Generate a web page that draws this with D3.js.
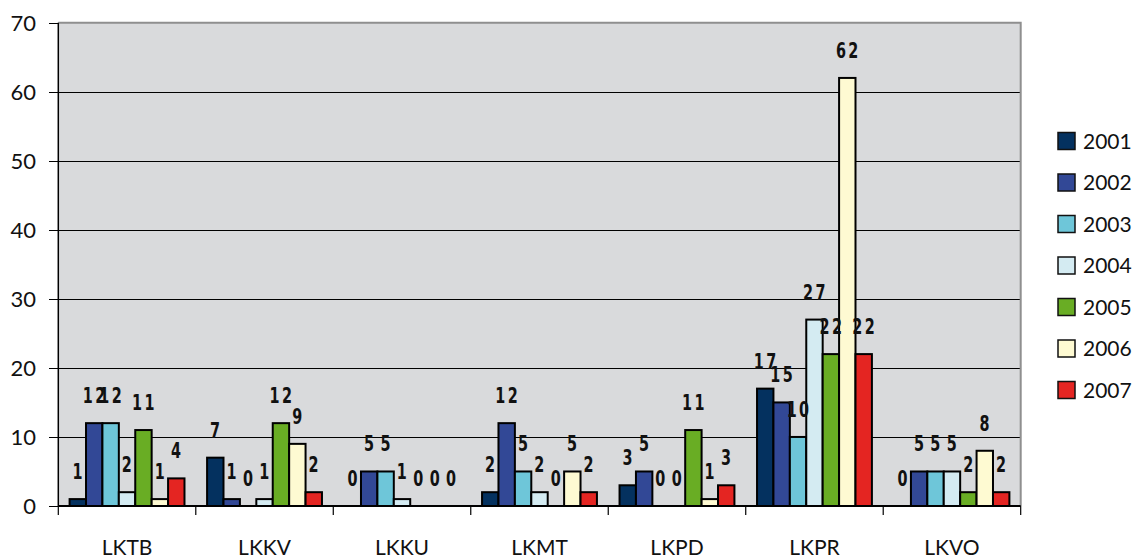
<!DOCTYPE html>
<html>
<head>
<meta charset="utf-8">
<script src="https://d3js.org/d3.v7.min.js"></script>
<style>
    html, body { margin: 0; padding: 0; background: #ffffff; }
    svg { display: block; }
</style>
</head>
<body>
<div id="chart"></div>
<script>
// Categories along the x axis
var categories = ["LKTB", "LKKV", "LKKU", "LKMT", "LKPD", "LKPR", "LKVO"];

// One series per year
var years = ["2001", "2002", "2003", "2004", "2005", "2006", "2007"];

// Values per year, in category order
var v2001 = [1, 7, 0, 2, 3, 17, 0];
var v2002 = [12, 1, 5, 12, 5, 15, 5];
var v2003 = [12, 0, 5, 5, 0, 10, 5];
var v2004 = [2, 1, 1, 2, 0, 27, 5];
var v2005 = [11, 12, 0, 0, 11, 22, 2];
var v2006 = [1, 9, 0, 5, 1, 62, 8];
var v2007 = [4, 2, 0, 2, 3, 22, 2];

var yTicks = [0, 10, 20, 30, 40, 50, 60, 70];

var colors = ["#04315f", "#324896", "#6ec6d9", "#d4ebf2", "#69ad24", "#fefad2", "#e42522"];

var seriesValues = [v2001, v2002, v2003, v2004, v2005, v2006, v2007];

// Build flat rows for the bars
var rows = [];
categories.forEach(function (c, ci) {
    years.forEach(function (y, yi) {
        rows.push({ cat: c, year: y, yi: yi, value: seriesValues[yi][ci] });
    });
});

var width = 1139, height = 559;
var plot = { left: 58.3, right: 1020.7, top: 22.7, bottom: 506 };

var svg = d3.select("#chart").append("svg")
    .attr("width", width)
    .attr("height", height);

var x = d3.scaleBand()
    .domain(categories)
    .range([plot.left, plot.right])
    .padding(0);

// Bars inside each category, leaving a gap at both sides
var inset = 11.3;
var xInner = d3.scaleBand()
    .domain(years)
    .range([inset, x.bandwidth() - inset])
    .padding(0);

var y = d3.scaleLinear()
    .domain([0, 70])
    .range([plot.bottom, plot.top]);

// Plot area background
svg.append("rect")
    .attr("x", plot.left)
    .attr("y", plot.top)
    .attr("width", plot.right - plot.left)
    .attr("height", plot.bottom - plot.top)
    .attr("fill", "#d9dadc");

// Gridlines (not the top one, that is the gray border)
svg.append("g")
    .selectAll("line")
    .data(yTicks.filter(function (t) { return t > 0 && t < 70; }))
    .enter()
    .append("line")
    .attr("x1", plot.left)
    .attr("x2", plot.right)
    .attr("y1", function (d) { return Math.round(y(d)) + 0.5; })
    .attr("y2", function (d) { return Math.round(y(d)) + 0.5; })
    .attr("stroke", "#000")
    .attr("stroke-width", 1);

// Gray border on top and right
svg.append("path")
    .attr("d", "M" + plot.left + "," + plot.top + "H" + plot.right + "V" + plot.bottom)
    .attr("fill", "none")
    .attr("stroke", "#8f8f8f")
    .attr("stroke-width", 2);

// Bars
svg.append("g")
    .selectAll("rect")
    .data(rows.filter(function (d) { return d.value > 0; }))
    .enter()
    .append("rect")
    .attr("x", function (d) { return x(d.cat) + xInner(d.year); })
    .attr("y", function (d) { return y(d.value); })
    .attr("width", xInner.bandwidth())
    .attr("height", function (d) { return y(0) - y(d.value); })
    .attr("fill", function (d) { return colors[d.yi]; })
    .attr("stroke", "#000")
    .attr("stroke-width", 2);

// Data labels above each bar, squeezed to look like the condensed face
svg.append("g")
    .selectAll("text")
    .data(rows)
    .enter()
    .append("text")
    .attr("transform", function (d) {
        var cx = x(d.cat) + xInner(d.year) + xInner.bandwidth() / 2 + 1;
        return "translate(" + cx + "," + (y(d.value) - 20) + ") scale(0.8,1.1)";
    })
    .attr("text-anchor", "middle")
    .style("font-family", "'Liberation Sans Narrow', 'DejaVu Sans Condensed', sans-serif")
    .style("font-weight", "bold")
    .style("font-size", "20px")
    .style("letter-spacing", "3px")
    .style("fill", "#111")
    .text(function (d) { return d.value; });

// Left axis line and ticks
svg.append("line")
    .attr("x1", plot.left).attr("x2", plot.left)
    .attr("y1", plot.top).attr("y2", plot.bottom)
    .attr("stroke", "#000")
    .attr("stroke-width", 1.5);

var yAxis = svg.append("g");
yAxis.selectAll("line")
    .data(yTicks)
    .enter()
    .append("line")
    .attr("x1", 49)
    .attr("x2", plot.left)
    .attr("y1", function (d) { return Math.round(y(d)) + 0.5; })
    .attr("y2", function (d) { return Math.round(y(d)) + 0.5; })
    .attr("stroke", "#000")
    .attr("stroke-width", 1);
yAxis.selectAll("text")
    .data(yTicks)
    .enter()
    .append("text")
    .attr("x", 36)
    .attr("y", function (d) { return y(d); })
    .attr("dy", "0.36em")
    .attr("text-anchor", "end")
    .style("font-family", "Lato, sans-serif")
    .style("font-size", "22px")
    .style("fill", "#111")
    .text(function (d) { return d; });

// Bottom axis line and category boundary ticks
svg.append("line")
    .attr("x1", plot.left).attr("x2", plot.right)
    .attr("y1", plot.bottom).attr("y2", plot.bottom)
    .attr("stroke", "#000")
    .attr("stroke-width", 2);

var boundaries = categories.map(function (c) { return x(c); }).concat([plot.right]);
svg.append("g")
    .selectAll("line")
    .data(boundaries)
    .enter()
    .append("line")
    .attr("x1", function (d) { return d; })
    .attr("x2", function (d) { return d; })
    .attr("y1", plot.bottom)
    .attr("y2", plot.bottom + 9)
    .attr("stroke", "#000")
    .attr("stroke-width", 1.2);

svg.append("g")
    .selectAll("text")
    .data(categories)
    .enter()
    .append("text")
    .attr("x", function (d) { return x(d) + x.bandwidth() / 2; })
    .attr("y", 555)
    .attr("text-anchor", "middle")
    .style("font-family", "Lato, sans-serif")
    .style("font-size", "21px")
    .style("fill", "#111")
    .text(function (d) { return d; });

// Legend
var legend = svg.append("g")
    .selectAll("g")
    .data(years)
    .enter()
    .append("g")
    .attr("transform", function (d, i) { return "translate(1058," + (141 + i * 41.5) + ")"; });

legend.append("rect")
    .attr("x", 0)
    .attr("y", -8.5)
    .attr("width", 17)
    .attr("height", 17)
    .attr("fill", function (d, i) { return colors[i]; })
    .attr("stroke", "#111")
    .attr("stroke-width", 1.5);

legend.append("text")
    .attr("x", 25)
    .attr("y", 0)
    .attr("dy", "0.36em")
    .style("font-family", "Lato, sans-serif")
    .style("font-size", "21px")
    .style("fill", "#111")
    .text(function (d) { return d; });
</script>
</body>
</html>
